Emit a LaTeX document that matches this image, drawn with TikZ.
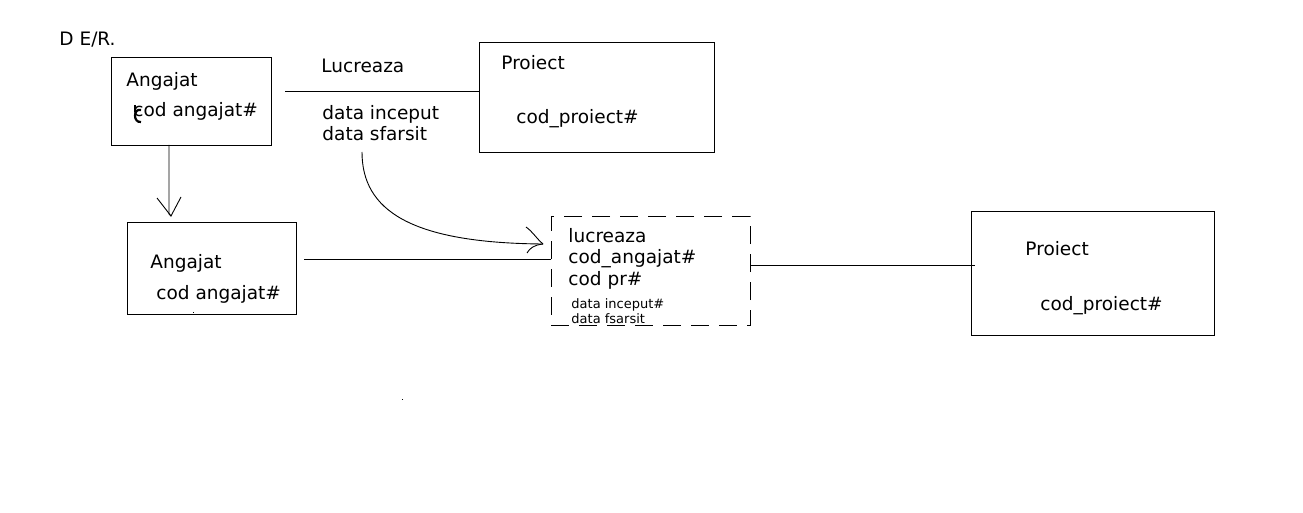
\documentclass[tikz,border=0pt]{standalone}
\usepackage{fontspec}
\setmainfont{DejaVu Sans}
\begin{document}
\begin{tikzpicture}[x=1pt,y=-1pt,line width=0.9pt,
  box/.style={draw,rectangle,inner sep=0pt},
  dbox/.style={box,dash pattern=on 18pt off 10pt},
  lbl/.style={anchor=base west,inner sep=0pt,font=\fontsize{18.5}{22}\selectfont},
  slbl/.style={anchor=base west,inner sep=0pt,font=\fontsize{13}{15}\selectfont},
  conn/.style={draw,line width=0.9pt}]
\useasboundingbox[fill=white] (0,0) rectangle (1303,513);
% boxes
\node[box,minimum width=160pt,minimum height=88pt] (a1) at (191,101) {};
\node[box,minimum width=235pt,minimum height=110pt] (p1) at (596.5,97) {};
\node[box,minimum width=169pt,minimum height=92pt] (a2) at (211.5,268) {};
\node[dbox,minimum width=199pt,minimum height=109pt] (l2) at (650.5,270.5) {};
\node[box,minimum width=243pt,minimum height=124pt] (p2) at (1092.5,273) {};
% texts
\node[lbl] (title) at (59,46) {D E/R.};
\node[lbl] (t1) at (126,87) {Angajat};
\node[lbl] (t2) at (133,117) {cod angajat\#};
\node[lbl] (t3) at (321,73) {Lucreaza};
\node[lbl] (t4) at (322,120) {data inceput};
\node[lbl] (t5) at (322,141) {data sfarsit};
\node[lbl] (t6) at (501,70) {Proiect};
\node[lbl] (t7) at (516,124) {cod\_proiect\#};
\node[lbl] (t8) at (150,268) {Angajat};
\node[lbl] (t9) at (156,299) {cod angajat\#};
\node[lbl] (t10) at (568,242) {lucreaza};
\node[lbl] (t11) at (568,263) {cod\_angajat\#};
\node[lbl] (t12) at (568,285) {cod pr\#};
\node[slbl] (t13) at (571,308) {data inceput\#};
\node[slbl] (t14) at (571,323) {data fsarsit};
\node[lbl] (t15) at (1025,255) {Proiect};
\node[lbl] (t16) at (1040,310) {cod\_proiect\#};
% scribble over the c
\draw[line width=2.2pt] (141,110) .. controls (133,108) and (133,123) .. (141,122);
\draw[line width=1.2pt] (135,105) -- (135,112);
% connectors
\coordinate (r1) at (285,91);
\draw[conn] (r1) -- (r1 -| p1.west);
\coordinate (v0) at (169,145);
\coordinate (v1) at (171,216);
\draw[conn] (v0) -- (169,214) -- (v1);
\draw[conn] (157,198) -- (v1) -- (181,197);
\coordinate (r2) at (304,259);
\draw[conn] (r2) -- (r2 -| l2.west);
\coordinate (r3) at (975,265);
\draw[conn] (r3 -| l2.east) -- (r3);
\coordinate (c0) at (362,152);
\coordinate (c1) at (543,244);
\draw[conn] (c0) .. controls (362,210) and (410,243) .. (c1);
\draw[conn] (526,227) .. controls (533,232) and (536,238) .. (c1);
\draw[conn] (527,253) .. controls (530,248) and (534,245) .. (c1);
% stray dots
\fill (192.5,311.5) rectangle (193.7,312.7);
\fill (401.5,398.5) rectangle (402.7,399.7);
\end{tikzpicture}
\end{document}
